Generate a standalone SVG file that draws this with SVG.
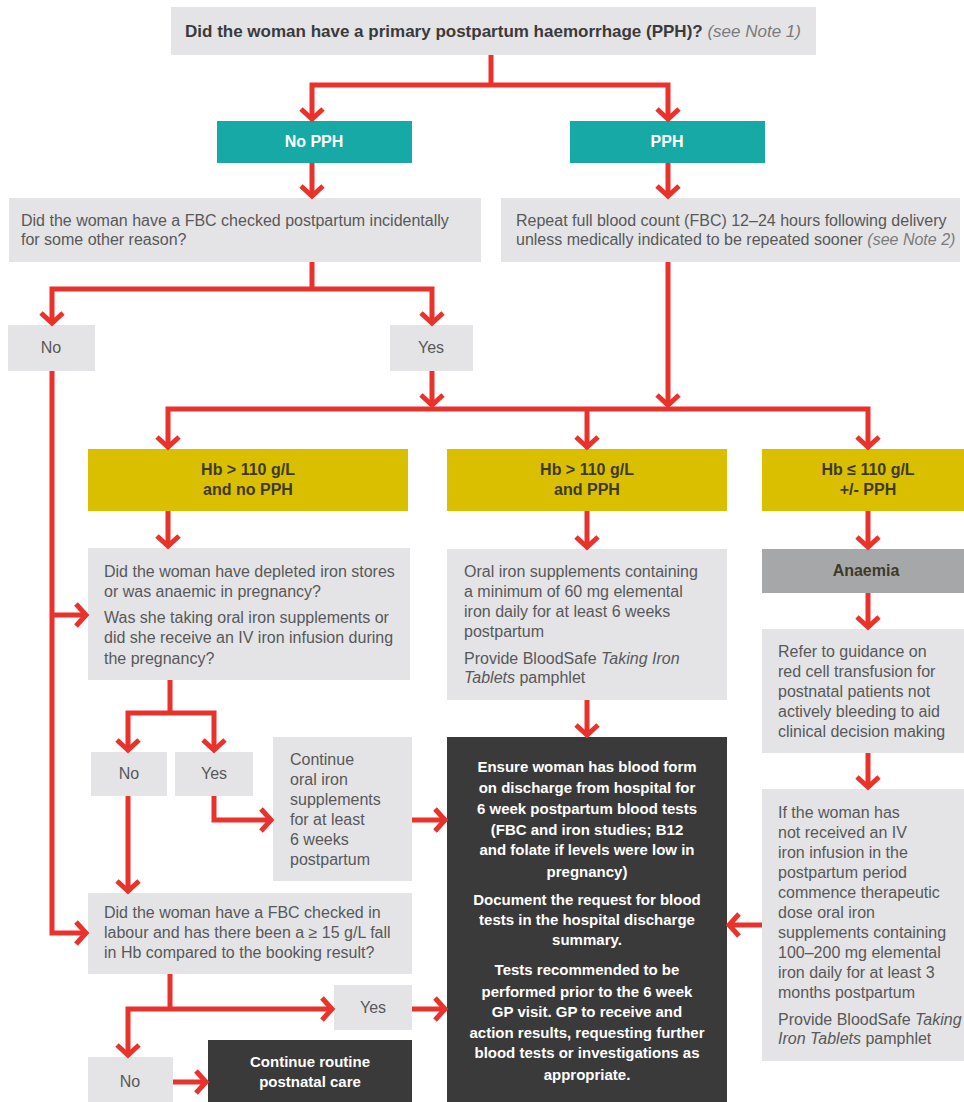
<svg xmlns="http://www.w3.org/2000/svg" width="964" height="1102" viewBox="0 0 964 1102">
<style>
.lg{fill:#e4e4e6}
.teal{fill:#17a9a6}
.yel{fill:#dabe00}
.mg{fill:#a6a7a9}
.dk{fill:#3b3a3b}
text{font-family:"Liberation Sans",Arial,sans-serif}
.b{font-size:16px;fill:#58585a}
.bc{font-size:16px;fill:#58585a;text-anchor:middle}
.wt{font-size:16px;font-weight:bold;fill:#ffffff;text-anchor:middle}
.yt{font-size:16px;font-weight:bold;fill:#3e3a2a;text-anchor:middle}
.dt{font-size:15px;font-weight:bold;fill:#ffffff;text-anchor:middle}
.ttl{font-size:17px;font-weight:bold;fill:#3a3a3c}
.it{font-style:italic;font-weight:normal;fill:#7a7a7c}
.c{fill:none;stroke:#e8322b;stroke-width:5}
</style>
<defs>
<marker id="ah" markerUnits="userSpaceOnUse" markerWidth="40" markerHeight="40" viewBox="-20 -20 40 40" refX="0" refY="0" orient="auto-start-reverse" overflow="visible">
<path d="M-10,-11 L0,0 L-10,11" fill="none" stroke="#e8322b" stroke-width="5"/>
</marker>
</defs>

<g id="n-top">
<rect class="lg" x="171" y="7" width="645" height="48"/>
<text class="ttl" x="493" y="37" text-anchor="middle">Did the woman have a primary postpartum haemorrhage (PPH)? <tspan class="it">(see Note 1)</tspan></text>
</g>
<g id="n-nopph">
<rect class="teal" x="217" y="121" width="195" height="42"/>
<text class="wt" x="314" y="147">No PPH</text>
</g>
<g id="n-pph">
<rect class="teal" x="570" y="121" width="195" height="42"/>
<text class="wt" x="667" y="147">PPH</text>
</g>
<g id="n-fbc">
<rect class="lg" x="9" y="198" width="472" height="64"/>
<text class="b" x="21" y="226">Did the woman have a FBC checked postpartum incidentally</text>
<text class="b" x="21" y="245">for some other reason?</text>
</g>
<g id="n-repeat">
<rect class="lg" x="501" y="198" width="459" height="64"/>
<text class="b" x="516" y="226">Repeat full blood count (FBC) 12–24 hours following delivery</text>
<text class="b" x="516" y="245">unless medically indicated to be repeated sooner <tspan class="it">(see Note 2)</tspan></text>
</g>
<g id="n-no1">
<rect class="lg" x="8" y="325" width="87" height="46"/>
<text class="bc" x="51" y="353">No</text>
</g>
<g id="n-yes1">
<rect class="lg" x="390" y="325" width="83" height="46"/>
<text class="bc" x="431" y="353">Yes</text>
</g>
<g id="n-hb1">
<rect class="yel" x="88" y="449" width="320" height="62"/>
<text class="yt" x="248" y="475">Hb &gt; 110 g/L</text>
<text class="yt" x="248" y="495">and no PPH</text>
</g>
<g id="n-hb2">
<rect class="yel" x="447" y="449" width="280" height="62"/>
<text class="yt" x="587" y="475">Hb &gt; 110 g/L</text>
<text class="yt" x="587" y="495">and PPH</text>
</g>
<g id="n-hb3">
<rect class="yel" x="762" y="449" width="202" height="62"/>
<text class="yt" x="868" y="475">Hb ≤ 110 g/L</text>
<text class="yt" x="868" y="495">+/- PPH</text>
</g>
<g id="n-depleted">
<rect class="lg" x="88" y="548" width="322" height="132"/>
<text class="b" x="104" y="577">Did the woman have depleted iron stores</text>
<text class="b" x="104" y="597">or was anaemic in pregnancy?</text>
<text class="b" x="104" y="623">Was she taking oral iron supplements or</text>
<text class="b" x="104" y="643">did she receive an IV iron infusion during</text>
<text class="b" x="104" y="664">the pregnancy?</text>
</g>
<g id="n-oral">
<rect class="lg" x="447" y="549" width="280" height="151"/>
<text class="b" x="464" y="577">Oral iron supplements containing</text>
<text class="b" x="464" y="597">a minimum of 60 mg elemental</text>
<text class="b" x="464" y="617">iron daily for at least 6 weeks</text>
<text class="b" x="464" y="637">postpartum</text>
<text class="b" x="464" y="664">Provide BloodSafe <tspan font-style="italic">Taking Iron</tspan></text>
<text class="b" x="464" y="683"><tspan font-style="italic">Tablets</tspan> pamphlet</text>
</g>
<g id="n-anaemia">
<rect class="mg" x="762" y="549" width="202" height="44"/>
<text class="yt" x="866" y="576">Anaemia</text>
</g>
<g id="n-refer">
<rect class="lg" x="762" y="629" width="202" height="124"/>
<text class="b" x="778" y="657">Refer to guidance on</text>
<text class="b" x="778" y="677">red cell transfusion for</text>
<text class="b" x="778" y="697">postnatal patients not</text>
<text class="b" x="778" y="717">actively bleeding to aid</text>
<text class="b" x="778" y="737">clinical decision making</text>
</g>
<g id="n-ifnot">
<rect class="lg" x="762" y="789" width="202" height="272"/>
<text class="b" x="778" y="818">If the woman has</text>
<text class="b" x="778" y="838">not received an IV</text>
<text class="b" x="778" y="858">iron infusion in the</text>
<text class="b" x="778" y="878">postpartum period</text>
<text class="b" x="778" y="898">commence therapeutic</text>
<text class="b" x="778" y="918">dose oral iron</text>
<text class="b" x="778" y="938">supplements containing</text>
<text class="b" x="778" y="958">100–200 mg elemental</text>
<text class="b" x="778" y="978">iron daily for at least 3</text>
<text class="b" x="778" y="998">months postpartum</text>
<text class="b" x="778" y="1025">Provide BloodSafe <tspan font-style="italic">Taking</tspan></text>
<text class="b" x="778" y="1044"><tspan font-style="italic">Iron Tablets</tspan> pamphlet</text>
</g>
<g id="n-no2">
<rect class="lg" x="91" y="752" width="76" height="44"/>
<text class="bc" x="129" y="779">No</text>
</g>
<g id="n-yes2">
<rect class="lg" x="175" y="752" width="78" height="44"/>
<text class="bc" x="214" y="779">Yes</text>
</g>
<g id="n-continue">
<rect class="lg" x="273" y="737" width="139" height="144"/>
<text class="b" x="290" y="765">Continue</text>
<text class="b" x="290" y="785">oral iron</text>
<text class="b" x="290" y="805">supplements</text>
<text class="b" x="290" y="825">for at least</text>
<text class="b" x="290" y="845">6 weeks</text>
<text class="b" x="290" y="865">postpartum</text>
</g>
<g id="n-ensure">
<rect class="dk" x="447" y="737" width="280" height="365"/>
<text class="dt" x="587" y="772">Ensure woman has blood form</text>
<text class="dt" x="587" y="793">on discharge from hospital for</text>
<text class="dt" x="587" y="814">6 week postpartum blood tests</text>
<text class="dt" x="587" y="835">(FBC and iron studies; B12</text>
<text class="dt" x="587" y="855">and folate if levels were low in</text>
<text class="dt" x="587" y="877">pregnancy)</text>
<text class="dt" x="587" y="905">Document the request for blood</text>
<text class="dt" x="587" y="925">tests in the hospital discharge</text>
<text class="dt" x="587" y="945">summary.</text>
<text class="dt" x="587" y="975">Tests recommended to be</text>
<text class="dt" x="587" y="997">performed prior to the 6 week</text>
<text class="dt" x="587" y="1017">GP visit. GP to receive and</text>
<text class="dt" x="587" y="1038">action results, requesting further</text>
<text class="dt" x="587" y="1058">blood tests or investigations as</text>
<text class="dt" x="587" y="1080">appropriate.</text>
</g>
<g id="n-labour">
<rect class="lg" x="88" y="893" width="324" height="81"/>
<text class="b" x="104" y="918">Did the woman have a FBC checked in</text>
<text class="b" x="104" y="938">labour and has there been a ≥ 15 g/L fall</text>
<text class="b" x="104" y="958">in Hb compared to the booking result?</text>
</g>
<g id="n-yes3">
<rect class="lg" x="334" y="985" width="78" height="45"/>
<text class="bc" x="373" y="1013">Yes</text>
</g>
<g id="n-no3">
<rect class="lg" x="88" y="1057" width="85" height="45"/>
<text class="bc" x="130" y="1087">No</text>
</g>
<g id="n-routine">
<rect class="dk" x="208" y="1040" width="204" height="62"/>
<text class="dt" x="310" y="1067">Continue routine</text>
<text class="dt" x="310" y="1087">postnatal care</text>
</g>

<g id="connectors" class="c">
<path class="c" d="M491,55 V85"/>
<path class="c" d="M312,119 V85 H668 V119" marker-start="url(#ah)" marker-end="url(#ah)"/>
<path class="c" d="M312,163 V196" marker-end="url(#ah)"/>
<path class="c" d="M668,163 V196" marker-end="url(#ah)"/>
<path class="c" d="M312,262 V289"/>
<path class="c" d="M52,323 V289 H432 V323" marker-start="url(#ah)" marker-end="url(#ah)"/>
<path class="c" d="M52,371 V933 H86" marker-end="url(#ah)"/>
<path class="c" d="M52,615 H86" marker-end="url(#ah)"/>
<path class="c" d="M432,371 V405" marker-end="url(#ah)"/>
<path class="c" d="M668,262 V405" marker-end="url(#ah)"/>
<path class="c" d="M168,447 V409 H868 V447" marker-start="url(#ah)" marker-end="url(#ah)"/>
<path class="c" d="M587,409 V447" marker-end="url(#ah)"/>
<path class="c" d="M168,511 V546" marker-end="url(#ah)"/>
<path class="c" d="M587,511 V547" marker-end="url(#ah)"/>
<path class="c" d="M868,511 V547" marker-end="url(#ah)"/>
<path class="c" d="M868,593 V627" marker-end="url(#ah)"/>
<path class="c" d="M868,753 V787" marker-end="url(#ah)"/>
<path class="c" d="M762,925 H729" marker-end="url(#ah)"/>
<path class="c" d="M587,700 V735" marker-end="url(#ah)"/>
<path class="c" d="M170,680 V713"/>
<path class="c" d="M128,750 V713 H214 V750" marker-start="url(#ah)" marker-end="url(#ah)"/>
<path class="c" d="M214,796 V820 H271" marker-end="url(#ah)"/>
<path class="c" d="M412,820 H445" marker-end="url(#ah)"/>
<path class="c" d="M128,796 V891" marker-end="url(#ah)"/>
<path class="c" d="M170,974 V1009"/>
<path class="c" d="M128,1055 V1009 H332" marker-start="url(#ah)" marker-end="url(#ah)"/>
<path class="c" d="M412,1009 H445" marker-end="url(#ah)"/>
<path class="c" d="M173,1082 H206" marker-end="url(#ah)"/>
</g>
</svg>
